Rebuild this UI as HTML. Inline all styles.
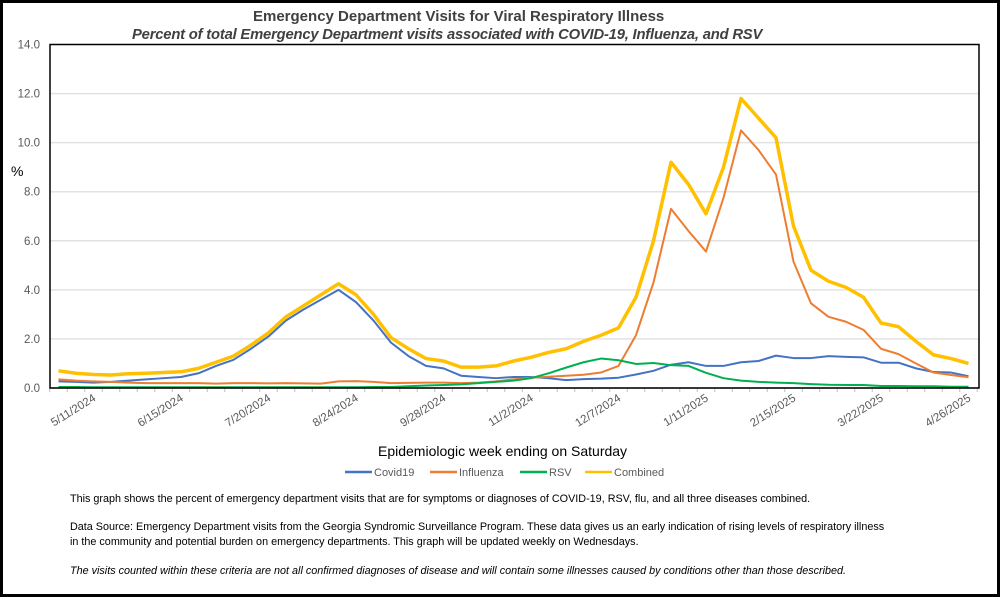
<!DOCTYPE html>
<html><head><meta charset="utf-8"><style>
body{margin:0;background:#fff;}
#wrap{position:relative;width:1000px;height:597px;box-sizing:border-box;border:3px solid #000;overflow:hidden;font-family:"Liberation Sans",sans-serif;}
.t{position:absolute;white-space:nowrap;}
</style></head><body>
<div id="wrap">
<svg id="chart" width="1000" height="597" style="position:absolute;left:-3px;top:-3px"></svg>
<div class="t" style="left:250px;top:5px;font-size:15px;font-weight:bold;color:#404040">Emergency Department Visits for Viral Respiratory Illness</div>
<div class="t" style="left:129px;top:24px;font-size:14.8px;font-weight:bold;font-style:italic;color:#404040;letter-spacing:-0.2px">Percent of total Emergency Department visits associated with COVID-19, Influenza, and RSV</div>
<div class="t" style="left:8px;top:160px;font-size:14px;color:#000">%</div>
<div class="t" style="left:375px;top:440px;font-size:14px;color:#000">Epidemiologic week ending on Saturday</div>
<div class="t" style="left:67px;top:490px;font-size:10.8px;color:#000">This graph shows the percent of emergency department visits that are for symptoms or diagnoses of COVID-19, RSV, flu, and all three diseases combined.</div>
<div class="t" style="left:67px;top:517px;font-size:10.8px;color:#000;line-height:15px">Data Source: Emergency Department visits from the Georgia Syndromic Surveillance Program. These data gives us an early indication of rising levels of respiratory illness<br>in the community and potential burden on emergency departments. This graph will be updated weekly on Wednesdays.</div>
<div class="t" style="left:67px;top:562px;font-size:10.8px;font-style:italic;color:#000">The visits counted within these criteria are not all confirmed diagnoses of disease and will contain some illnesses caused by conditions other than those described.</div>
</div>
<script>
const categories=["4/27/2024","5/4/2024","5/11/2024","5/18/2024","5/25/2024","6/1/2024","6/8/2024","6/15/2024","6/22/2024","6/29/2024","7/6/2024","7/13/2024","7/20/2024","7/27/2024","8/3/2024","8/10/2024","8/17/2024","8/24/2024","8/31/2024","9/7/2024","9/14/2024","9/21/2024","9/28/2024","10/5/2024","10/12/2024","10/19/2024","10/26/2024","11/2/2024","11/9/2024","11/16/2024","11/23/2024","11/30/2024","12/7/2024","12/14/2024","12/21/2024","12/28/2024","1/4/2025","1/11/2025","1/18/2025","1/25/2025","2/1/2025","2/8/2025","2/15/2025","2/22/2025","3/1/2025","3/8/2025","3/15/2025","3/22/2025","3/29/2025","4/5/2025","4/12/2025","4/19/2025","4/26/2025"];
const covid=[0.27,0.25,0.22,0.25,0.3,0.35,0.4,0.45,0.6,0.9,1.15,1.6,2.1,2.75,3.2,3.6,4.0,3.5,2.75,1.85,1.3,0.9,0.8,0.5,0.45,0.4,0.45,0.45,0.4,0.32,0.36,0.38,0.42,0.55,0.7,0.95,1.05,0.9,0.9,1.05,1.1,1.32,1.22,1.22,1.3,1.27,1.25,1.03,1.03,0.8,0.65,0.63,0.48];
const influenza=[0.35,0.3,0.27,0.25,0.22,0.2,0.2,0.2,0.2,0.18,0.2,0.2,0.19,0.2,0.19,0.18,0.27,0.28,0.25,0.2,0.21,0.22,0.22,0.2,0.22,0.27,0.35,0.42,0.46,0.5,0.54,0.63,0.9,2.15,4.3,7.3,6.4,5.56,7.75,10.5,9.7,8.7,5.15,3.45,2.9,2.7,2.37,1.6,1.38,1.0,0.63,0.53,0.44];
const rsv=[0.04,0.04,0.03,0.03,0.03,0.03,0.03,0.03,0.03,0.03,0.03,0.03,0.03,0.03,0.03,0.03,0.03,0.03,0.04,0.04,0.07,0.1,0.12,0.15,0.2,0.25,0.3,0.4,0.6,0.83,1.05,1.2,1.13,0.98,1.02,0.93,0.9,0.62,0.4,0.3,0.25,0.22,0.2,0.16,0.13,0.12,0.12,0.08,0.08,0.07,0.07,0.05,0.05];
const combined=[0.7,0.6,0.55,0.53,0.58,0.6,0.63,0.66,0.8,1.05,1.3,1.75,2.25,2.9,3.35,3.8,4.25,3.8,3.0,2.05,1.6,1.2,1.1,0.85,0.85,0.9,1.1,1.25,1.45,1.6,1.9,2.15,2.45,3.7,6.0,9.2,8.3,7.1,9.0,11.8,11.0,10.2,6.6,4.8,4.35,4.1,3.7,2.65,2.5,1.9,1.35,1.2,1.0];
const yTicks=[0,2,4,6,8,10,12,14];
const labelEvery=5, labelStart=2;
const NS="http://www.w3.org/2000/svg";
const svg=document.getElementById('chart');
const L=50,R=979,T=44.5,B=388,ymax=14;
const step=17.5;
const x0=58.5;
function xs(i){return x0+i*step;}
function ys(v){return B-(v/ymax)*(B-T);}
function mk(tag,attrs){const e=document.createElementNS(NS,tag);for(const k in attrs)e.setAttribute(k,attrs[k]);svg.appendChild(e);return e;}
yTicks.forEach(v=>{
  if(v>0&&v<ymax){const g=mk('line',{x1:L,x2:R,y1:ys(v),y2:ys(v),stroke:'#e2e2e2','stroke-width':1.5});
  
  }
  const t=mk('text',{x:40,y:ys(v)+4,'text-anchor':'end','font-size':11.5,fill:'#595959','font-family':'Liberation Sans, sans-serif'});
  t.textContent=v.toFixed(1);
  
  
});
const ax=mk('line',{x1:L,x2:R,y1:B,y2:B,stroke:'#bfbfbf','stroke-width':1.5});


for(let i=0;i<=categories.length;i++){
  const tk=mk('line',{x1:x0-step/2+i*step,x2:x0-step/2+i*step,y1:B,y2:B+4,stroke:'#bfbfbf','stroke-width':1});
  
  
}
categories.forEach((c,i)=>{
  if(i>=labelStart&&(i-labelStart)%labelEvery===0){
    const t=mk('text',{x:xs(i)+3,y:B+12,'text-anchor':'end','font-size':11.5,fill:'#595959','font-family':'Liberation Sans, sans-serif',transform:`rotate(-32 ${xs(i)+3} ${B+12})`});
    t.textContent=c;
    
    
  }
});
const series=[["covid19",covid,'#4472c4',2],["influenza",influenza,'#ed7d31',2],["rsv",rsv,'#00b050',2],["combined",combined,'#ffc000',3.5]];
series.forEach(([n,d,col,w])=>{
  const p=mk('polyline',{points:d.map((v,i)=>xs(i)+','+ys(v)).join(' '),fill:'none',stroke:col,'stroke-width':w,'stroke-linejoin':'round'});
  
  
});
const box=mk('rect',{x:L,y:T,width:R-L,height:B-T,fill:'none',stroke:'#000','stroke-width':1.5});


const legend=[["Covid19",'#4472c4',345],["Influenza",'#ed7d31',430],["RSV",'#00b050',520],["Combined",'#ffc000',585]];
legend.forEach(([n,col,x])=>{
  const l=mk('line',{x1:x,x2:x+27,y1:472,y2:472,stroke:col,'stroke-width':2.5});
  
  
  const t=mk('text',{x:x+29,y:476,'font-size':11,fill:'#595959','font-family':'Liberation Sans, sans-serif'});
  t.textContent=n;
  
  
});
</script>
</body></html>
